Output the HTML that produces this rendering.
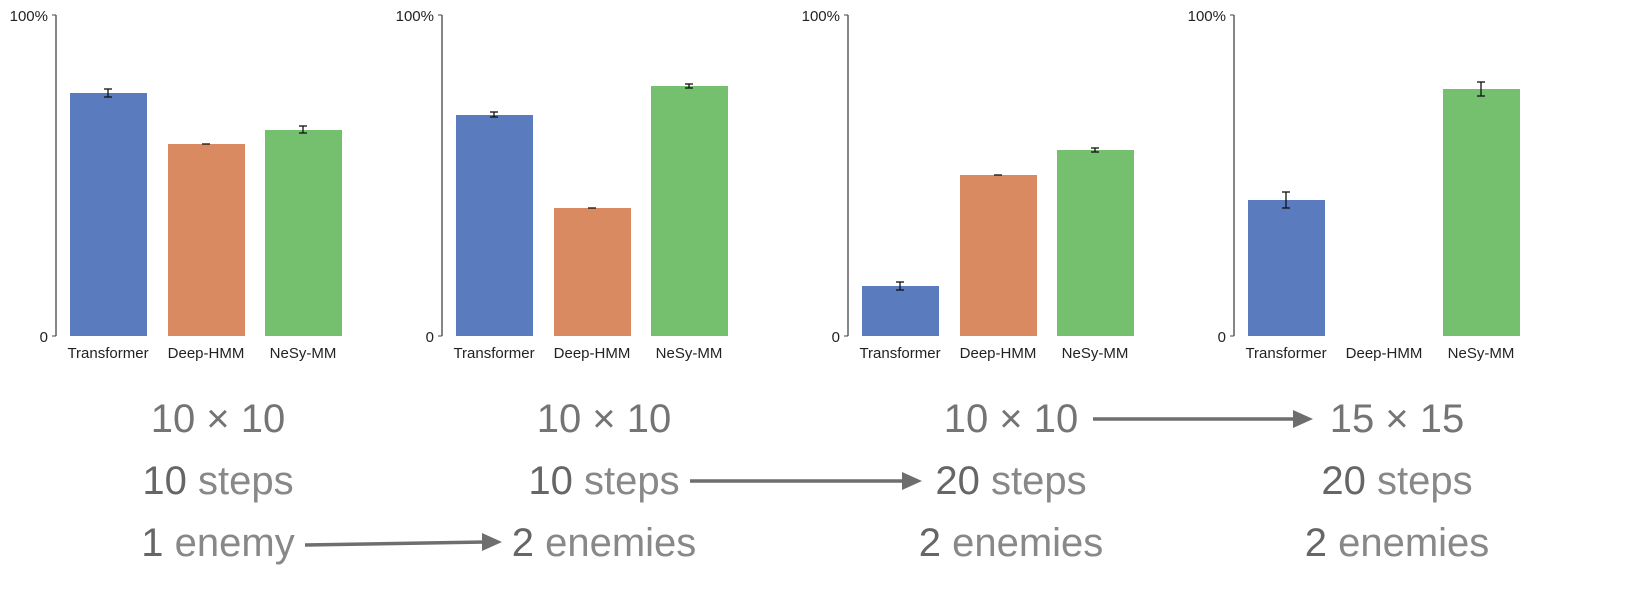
<!DOCTYPE html>
<html><head><meta charset="utf-8"><style>
html,body{margin:0;padding:0;background:#fff;width:1638px;height:605px;overflow:hidden}
svg{display:block}
</style></head><body>
<svg width="1638" height="605" viewBox="0 0 1638 605" xmlns="http://www.w3.org/2000/svg" font-family="Liberation Sans, sans-serif">
<defs>
<marker id="ah" markerWidth="6" markerHeight="6" refX="5" refY="3" orient="auto" markerUnits="strokeWidth">
<path d="M0,0 L6,3 L0,6 z" fill="#6e6e6e"/></marker>
</defs>
<g id="panels" font-size="15" fill="#222">
<!-- panel 1 -->
<g transform="translate(0,0)">
<line x1="56" y1="15" x2="56" y2="336" stroke="#444" stroke-width="1.3"/>
<line x1="52" y1="15" x2="56" y2="15" stroke="#444"/><line x1="52" y1="336" x2="56" y2="336" stroke="#444"/>
<text x="48" y="21" text-anchor="end">100%</text><text x="48" y="342" text-anchor="end">0</text>
<rect x="70" y="93" width="77" height="243" fill="#5a7cbf"/>
<rect x="168" y="144" width="77" height="192" fill="#d98a60"/>
<rect x="265" y="130" width="77" height="206" fill="#74c06f"/>
<g stroke="#111" stroke-width="1.3">
<line x1="108" y1="89" x2="108" y2="97"/><line x1="104" y1="89" x2="112" y2="89"/><line x1="104" y1="97" x2="112" y2="97"/>
<line x1="202" y1="144" x2="210" y2="144"/>
<line x1="303" y1="126" x2="303" y2="133"/><line x1="299" y1="126" x2="307" y2="126"/><line x1="299" y1="133" x2="307" y2="133"/>
</g>
<text x="108" y="358" text-anchor="middle">Transformer</text>
<text x="206" y="358" text-anchor="middle">Deep-HMM</text>
<text x="303" y="358" text-anchor="middle">NeSy-MM</text>
</g>
<!-- panel 2 -->
<g transform="translate(386,0)">
<line x1="56" y1="15" x2="56" y2="336" stroke="#444" stroke-width="1.3"/>
<line x1="52" y1="15" x2="56" y2="15" stroke="#444"/><line x1="52" y1="336" x2="56" y2="336" stroke="#444"/>
<text x="48" y="21" text-anchor="end">100%</text><text x="48" y="342" text-anchor="end">0</text>
<rect x="70" y="115" width="77" height="221" fill="#5a7cbf"/>
<rect x="168" y="208" width="77" height="128" fill="#d98a60"/>
<rect x="265" y="86" width="77" height="250" fill="#74c06f"/>
<g stroke="#111" stroke-width="1.3">
<line x1="108" y1="112" x2="108" y2="117"/><line x1="104" y1="112" x2="112" y2="112"/><line x1="104" y1="117" x2="112" y2="117"/>
<line x1="202" y1="208" x2="210" y2="208"/>
<line x1="303" y1="84" x2="303" y2="88"/><line x1="299" y1="84" x2="307" y2="84"/><line x1="299" y1="88" x2="307" y2="88"/>
</g>
<text x="108" y="358" text-anchor="middle">Transformer</text>
<text x="206" y="358" text-anchor="middle">Deep-HMM</text>
<text x="303" y="358" text-anchor="middle">NeSy-MM</text>
</g>
<!-- panel 3 -->
<g transform="translate(792,0)">
<line x1="56" y1="15" x2="56" y2="336" stroke="#444" stroke-width="1.3"/>
<line x1="52" y1="15" x2="56" y2="15" stroke="#444"/><line x1="52" y1="336" x2="56" y2="336" stroke="#444"/>
<text x="48" y="21" text-anchor="end">100%</text><text x="48" y="342" text-anchor="end">0</text>
<rect x="70" y="286" width="77" height="50" fill="#5a7cbf"/>
<rect x="168" y="175" width="77" height="161" fill="#d98a60"/>
<rect x="265" y="150" width="77" height="186" fill="#74c06f"/>
<g stroke="#111" stroke-width="1.3">
<line x1="108" y1="282" x2="108" y2="290"/><line x1="104" y1="282" x2="112" y2="282"/><line x1="104" y1="290" x2="112" y2="290"/>
<line x1="202" y1="175" x2="210" y2="175"/>
<line x1="303" y1="148" x2="303" y2="152"/><line x1="299" y1="148" x2="307" y2="148"/><line x1="299" y1="152" x2="307" y2="152"/>
</g>
<text x="108" y="358" text-anchor="middle">Transformer</text>
<text x="206" y="358" text-anchor="middle">Deep-HMM</text>
<text x="303" y="358" text-anchor="middle">NeSy-MM</text>
</g>
<!-- panel 4 -->
<g transform="translate(1178,0)">
<line x1="56" y1="15" x2="56" y2="336" stroke="#444" stroke-width="1.3"/>
<line x1="52" y1="15" x2="56" y2="15" stroke="#444"/><line x1="52" y1="336" x2="56" y2="336" stroke="#444"/>
<text x="48" y="21" text-anchor="end">100%</text><text x="48" y="342" text-anchor="end">0</text>
<rect x="70" y="200" width="77" height="136" fill="#5a7cbf"/>
<rect x="265" y="89" width="77" height="247" fill="#74c06f"/>
<g stroke="#111" stroke-width="1.3">
<line x1="108" y1="192" x2="108" y2="208"/><line x1="104" y1="192" x2="112" y2="192"/><line x1="104" y1="208" x2="112" y2="208"/>
<line x1="303" y1="82" x2="303" y2="96"/><line x1="299" y1="82" x2="307" y2="82"/><line x1="299" y1="96" x2="307" y2="96"/>
</g>
<text x="108" y="358" text-anchor="middle">Transformer</text>
<text x="206" y="358" text-anchor="middle">Deep-HMM</text>
<text x="303" y="358" text-anchor="middle">NeSy-MM</text>
</g>
</g>
<g font-size="40" fill="#747474" text-anchor="middle">
<text x="218" y="432">10 × 10</text>
<text x="604" y="432">10 × 10</text>
<text x="1011" y="432">10 × 10</text>
<text x="1397" y="432">15 × 15</text>
<text x="218" y="494"><tspan fill="#666">10</tspan><tspan fill="#888"> steps</tspan></text>
<text x="604" y="494"><tspan fill="#666">10</tspan><tspan fill="#888"> steps</tspan></text>
<text x="1011" y="494"><tspan fill="#666">20</tspan><tspan fill="#888"> steps</tspan></text>
<text x="1397" y="494"><tspan fill="#666">20</tspan><tspan fill="#888"> steps</tspan></text>
<text x="218" y="556"><tspan fill="#666">1</tspan><tspan fill="#888"> enemy</tspan></text>
<text x="604" y="556"><tspan fill="#666">2</tspan><tspan fill="#888"> enemies</tspan></text>
<text x="1011" y="556"><tspan fill="#666">2</tspan><tspan fill="#888"> enemies</tspan></text>
<text x="1397" y="556"><tspan fill="#666">2</tspan><tspan fill="#888"> enemies</tspan></text>
</g>
<g stroke="#6e6e6e" stroke-width="3.5">
<line x1="305" y1="545" x2="485" y2="542"/>
<line x1="690" y1="481" x2="905" y2="481"/>
<line x1="1093" y1="419" x2="1296" y2="419"/>
</g>
<g fill="#6e6e6e">
<path d="M482,533 L502,542 L482,551 z"/>
<path d="M902,472 L922,481 L902,490 z"/>
<path d="M1293,410 L1313,419 L1293,428 z"/>
</g>
</svg>
</body></html>
